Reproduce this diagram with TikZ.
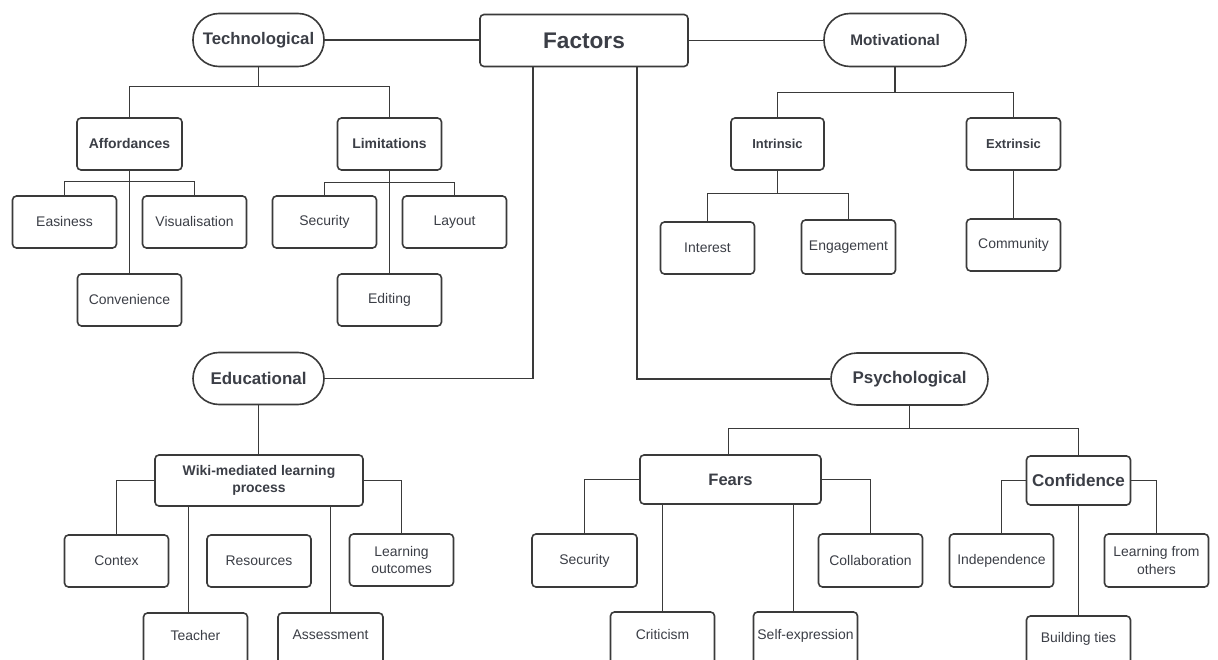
\documentclass[tikz,border=0pt]{standalone}
\usepackage{fontspec}
\setmainfont{Liberation Sans}
\definecolor{linec}{HTML}{3A3A3A}
\definecolor{txtc}{HTML}{3B3E46}
\tikzset{
  box/.style={draw=linec, line width=1.6bp, rounded corners=4bp, inner sep=0pt,
    text=txtc, align=center},
  stad/.style={box, rounded corners=26bp},
  sz/.style 2 args={minimum width=#1bp, minimum height=#2bp},
  fs/.style={font=\fontsize{#1}{17.5}\selectfont},
  bfs/.style={font=\bfseries\fontsize{#1}{17.5}\selectfont},
  conn/.style={draw=linec, line width=1.8bp},
}
\begin{document}
\begin{tikzpicture}[x=1bp,y=-1bp]
\useasboundingbox (0,0) rectangle (1218,660);
\fill[white] (0,0) rectangle (1218,660);
\clip (0,0) rectangle (1218,660);

% rows used by the branching connectors
\coordinate (y86) at (0,86.5);
\coordinate (y92) at (0,92.5);
\coordinate (y181) at (0,181.5);
\coordinate (y182) at (0,182.5);
\coordinate (y193) at (0,193.5);
\coordinate (y428) at (0,428.5);

% top level
\node[box, sz={208}{52}, bfs=22.7] (fac) at (584,40.5) {Factors};
\node[stad, sz={131}{53}, bfs=16.8] (tech) at (258.5,40) {Technological};
\node[stad, sz={142}{53}, bfs=15.4] (mot) at (895,40) {Motivational};
\node[stad, sz={131}{52}, bfs=17] (edu) at (258.5,378.5) {Educational};
\node[stad, sz={157}{52}, bfs=17] (psy) at (909.5,379) {Psychological};

% technological branch
\node[box, sz={105}{52}, bfs=14] (aff) at (129.5,144) {Affordances};
\node[box, sz={104}{52}, bfs=14] (lim) at (389.5,144) {Limitations};
\node[box, sz={104}{52}, fs=14] (eas) at (64.5,222) {Easiness};
\node[box, sz={104}{52}, fs=14] (vis) at (194.5,222) {Visualisation};
\node[box, sz={104}{52}, fs=14] (conv) at (129.5,300) {Convenience};
\node[box, sz={104}{52}, fs=14] (sec1) at (324.5,222) {Security};
\node[box, sz={104}{52}, fs=14] (lay) at (454.5,222) {Layout};
\node[box, sz={104}{52}, fs=14] (edit) at (389.5,300) {Editing};

% motivational branch
\node[box, sz={93}{52}, bfs=13] (intr) at (777.5,144) {Intrinsic};
\node[box, sz={94}{52}, bfs=13] (extr) at (1013.5,144) {Extrinsic};
\node[box, sz={94}{52}, fs=14] (int) at (707.5,248) {Interest};
\node[box, sz={94}{54}, fs=14] (eng) at (848.5,247) {Engagement};
\node[box, sz={94}{52}, fs=14] (com) at (1013.5,245) {Community};

% educational branch
\node[box, sz={208}{51}, bfs=14] (wiki) at (259,480.5) {Wiki-mediated learning\\process};
\node[box, sz={104}{52}, fs=14] (cont) at (116.5,561) {Contex};
\node[box, sz={104}{52}, fs=14] (res) at (259,561) {Resources};
\node[box, sz={104}{52}, fs=14] (lo) at (401.5,560) {Learning\\outcomes};
\node[box, sz={104}{52}, fs=14] (teach) at (195.5,639) {\raisebox{8pt}{Teacher}};
\node[box, sz={105}{52}, fs=14] (ass) at (330.5,639) {\raisebox{8pt}{Assessment}};

% psychological branch
\node[box, sz={181}{49}, bfs=16.6] (fears) at (730.5,479.5) {Fears};
\node[box, sz={104}{49}, bfs=17.1] (conf) at (1078.5,480.5) {Confidence};
\node[box, sz={105}{53}, fs=14] (sec2) at (584.5,560.5) {Security};
\node[box, sz={104}{52}, fs=14] (crit) at (662.5,638) {\raisebox{8pt}{Criticism}};
\node[box, sz={104}{52}, fs=14] (self) at (805.5,638) {\raisebox{8pt}{Self-expression}};
\node[box, sz={104}{53}, fs=14] (coll) at (870.5,560.5) {Collaboration};
\node[box, sz={104}{53}, fs=14] (ind) at (1001.5,560.5) {Independence};
\node[box, sz={104}{53}, fs=14] (lfo) at (1156.5,560.5) {Learning from\\others};
\node[box, sz={104}{52}, fs=14] (bt) at (1078.5,642) {\raisebox{9pt}{Building ties}};

% connectors from the central node
\draw[conn] (tech.east) -- (tech.east -| fac.west);
\draw[conn] (fac.east) -- (fac.east -| mot.west);
\draw[conn] ([xshift=-51bp]fac.south) |- (edu.east);
\draw[conn] ([xshift=53bp]fac.south) |- (psy.west);

% technological
\draw[conn] (tech.south) -- (tech.south |- y86);
\draw[conn] (aff.north) |- (lim.north |- y86) -- (lim.north);
\draw[conn] (aff.south) -- (conv.north);
\draw[conn] (eas.north) |- (vis.north |- y181) -- (vis.north);
\draw[conn] (lim.south) -- (edit.north);
\draw[conn] (sec1.north) |- (lay.north |- y182) -- (lay.north);

% motivational
\draw[conn] (mot.south) -- (mot.south |- y92);
\draw[conn] (intr.north) |- (extr.north |- y92) -- (extr.north);
\draw[conn] (intr.south) -- (intr.south |- y193);
\draw[conn] (int.north) |- (eng.north |- y193) -- (eng.north);
\draw[conn] (extr.south) -- (com.north);

% educational
\draw[conn] (edu.south) -- (edu.south |- wiki.north);
\draw[conn] (wiki.west) -| (cont.north);
\draw[conn] (wiki.east) -| (lo.north);
\draw[conn] ([xshift=-7bp]teach.north) -- ([xshift=-7bp]teach.north |- wiki.south);
\draw[conn] (ass.north) -- (ass.north |- wiki.south);

% psychological
\draw[conn] (psy.south) -- (psy.south |- y428);
\draw[conn] ([xshift=-2bp]fears.north) |- (conf.north |- y428) -- (conf.north);
\draw[conn] (fears.west) -| (sec2.north);
\draw[conn] (fears.east) -| (coll.north);
\draw[conn] (crit.north) -- (crit.north |- fears.south);
\draw[conn] ([xshift=-12bp]self.north) -- ([xshift=-12bp]self.north |- fears.south);
\draw[conn] (conf.west) -| (ind.north);
\draw[conn] (conf.east) -| (lfo.north);
\draw[conn] (conf.south) -- (bt.north);
\end{tikzpicture}
\end{document}
